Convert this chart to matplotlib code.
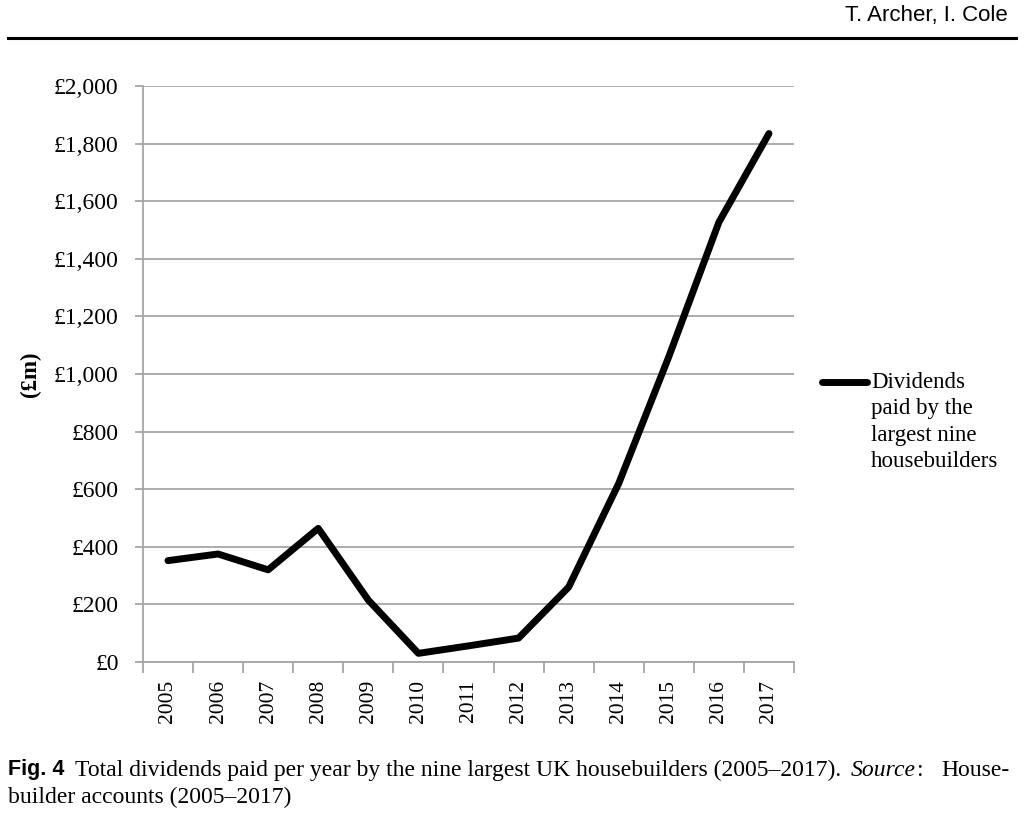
import matplotlib
matplotlib.use("Agg")
import matplotlib.pyplot as plt
from matplotlib.lines import Line2D

# Data (£m)
years = ['2005', '2006', '2007', '2008', '2009', '2010', '2011',
         '2012', '2013', '2014', '2015', '2016', '2017']
dividends = [352, 375, 320, 464, 215, 30, 56, 83, 260, 620, 1060, 1527, 1835]
yticks = [0, 200, 400, 600, 800, 1000, 1200, 1400, 1600, 1800, 2000]

serif = 'Liberation Serif'
grey = '#a6a6a6'

fig = plt.figure(figsize=(10.24, 8.19), dpi=100)
ax = fig.add_axes([0.1396, 0.1917, 0.7754 - 0.1396, 0.895 - 0.1917])

x = list(range(len(years)))
ax.plot(x, dividends, color='black', linewidth=5, solid_capstyle='round',
        solid_joinstyle='round')

ax.set_xlim(-0.5, len(years) - 0.5)
ax.set_ylim(0, 2000)
ax.set_yticks(yticks)
ax.set_yticklabels(['£{:,}'.format(v) for v in yticks], fontfamily=serif, fontsize=17)
ax.yaxis.grid(True, color=grey, linewidth=1.3)
ax.set_axisbelow(True)

# category boundaries carry the ticks, labels sit at the centres
ax.set_xticks([i - 0.5 for i in range(len(years) + 1)])
ax.set_xticklabels([])
ax.set_xticks(x, minor=True)
ax.set_xticklabels(years, minor=True, rotation=90, fontfamily=serif, fontsize=15.5)
ax.tick_params(axis='x', which='major', length=8, color=grey, width=1.3)
ax.tick_params(axis='x', which='minor', length=0, pad=13)
ax.tick_params(axis='y', length=6, color=grey, width=1.3, pad=11.5)

for s in ['top', 'right']:
    ax.spines[s].set_visible(False)
for s in ['left', 'bottom']:
    ax.spines[s].set_color(grey)
    ax.spines[s].set_linewidth(1.3)

ax.set_ylabel('(£m)', fontfamily=serif, fontweight='bold', fontsize=16.5, labelpad=9)

# legend drawn at the right, like the original
fig.add_artist(Line2D([822 / 1024, 867 / 1024], [1 - 381.5 / 819] * 2, color='black',
                      linewidth=5, solid_capstyle='round'))
fig.text(871 / 1024, 1 - 372 / 819, 'Dividends\npaid by the\nlargest nine\nhousebuilders',
         fontfamily=serif, fontsize=16.5, va='top', ha='left', linespacing=1.33)

# page header
fig.text(1008 / 1024, 1 - 15 / 819, 'T. Archer, I. Cole',
         fontfamily='Liberation Sans', fontsize=16, ha='right', va='center')
fig.add_artist(Line2D([8 / 1024, 1016 / 1024], [1 - 38 / 819] * 2, color='black', linewidth=2.2))

# caption (justified in the original, so pieces are pinned)
cap_y = 1 - 770 / 819
fig.text(8 / 1024, cap_y, 'Fig. 4', fontfamily='Liberation Sans', fontweight='bold',
         fontsize=15.5, va='center', ha='left')
fig.text(75 / 1024, cap_y,
         'Total dividends paid per year by the nine largest UK housebuilders (2005\u20132017).',
         fontfamily=serif, fontsize=17, va='center', ha='left')
src = fig.text(851 / 1024, cap_y, 'Source', fontfamily=serif, fontstyle='italic', fontsize=17,
               va='center', ha='left')
fig.canvas.draw()
x_colon = src.get_window_extent(fig.canvas.get_renderer()).x1
fig.text(x_colon / 1024, cap_y, ':', fontfamily=serif, fontsize=17, va='center', ha='left')
fig.text(1010 / 1024, cap_y, 'House-', fontfamily=serif, fontsize=17, va='center', ha='right')
fig.text(8 / 1024, 1 - 797 / 819, 'builder accounts (2005\u20132017)',
         fontfamily=serif, fontsize=17, va='center', ha='left')

fig.savefig('out.png', dpi=100)
